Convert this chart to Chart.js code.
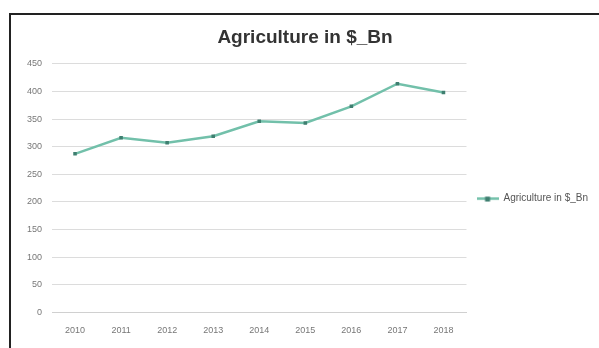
<!DOCTYPE html>
<html>
<head>
<meta charset="utf-8">
<script src="https://cdn.jsdelivr.net/npm/chart.js@4"></script>
<style>
    html, body { margin: 0; padding: 0; background: #fff; }
    #wrap { position: relative; width: 599px; height: 348px; overflow: hidden; }
    #frame {
        position: absolute; left: 9px; top: 13px; width: 620px; height: 360px;
        border-top: 2px solid #222; border-left: 2px solid #222;
        pointer-events: none;
    }
</style>
</head>
<body>
<div id="wrap">
    <canvas id="agriChart" width="599" height="348"></canvas>
    <div id="frame"></div>
</div>
<script>
// Dados
const years = ['2010', '2011', '2012', '2013', '2014', '2015', '2016', '2017', '2018'];
const agriValues = [287, 316, 307, 319, 346, 343, 373, 414, 398];
const yTicks = [0, 50, 100, 150, 200, 250, 300, 350, 400, 450];
const seriesName = 'Agriculture in $_Bn';

const lineColor = '#72c0aa';
const markerColor = '#3f7f70';

// Marcador da legenda: linha com um quadrado no meio (estilo Excel)
function legendMarker() {
    const c = document.createElement('canvas');
    c.width = 22; c.height = 7;
    const g = c.getContext('2d');
    g.strokeStyle = lineColor;
    g.lineWidth = 2.5;
    g.beginPath(); g.moveTo(0, 3.5); g.lineTo(22, 3.5); g.stroke();
    g.fillStyle = markerColor;
    g.fillRect(8.5, 1.5, 5, 5);
    return c;
}

function initAgriChart() {
    const ctx = document.getElementById('agriChart');
    const marker = legendMarker();

    new Chart(ctx.getContext('2d'), {
        type: 'line',
        data: {
            labels: years,
            datasets: [{
                label: seriesName,
                data: agriValues,
                borderColor: lineColor,
                backgroundColor: markerColor,
                borderWidth: 2.5,
                pointStyle: 'rect',
                pointRadius: 2.5,
                pointBorderWidth: 0,
                pointBackgroundColor: markerColor,
                tension: 0,
                fill: false
            }]
        },
        options: {
            responsive: false,
            animation: false,
            layout: { padding: { left: 12, right: 1, top: 18, bottom: 0 } },
            plugins: {
                title: {
                    display: true,
                    text: seriesName,
                    color: '#333',
                    font: { family: 'Liberation Sans', size: 19, weight: 'bold' },
                    padding: { top: 8, bottom: 15 }
                },
                legend: {
                    position: 'right',
                    title: { display: true, text: ' ', padding: 0, font: { size: 26 } },
                    labels: {
                        usePointStyle: true,
                        pointStyleWidth: 22,
                        color: '#555',
                        font: { family: 'Liberation Sans', size: 10 },
                        padding: 10,
                        generateLabels: chart => {
                            const items = Chart.defaults.plugins.legend.labels.generateLabels(chart);
                            items.forEach(it => { it.pointStyle = marker; });
                            return items;
                        }
                    }
                },
                tooltip: { enabled: false }
            },
            scales: {
                x: {
                    offset: true,
                    grid: { display: false, drawTicks: false },
                    border: { color: '#d0d0d0' },
                    ticks: { color: '#777', font: { family: 'Liberation Sans', size: 9, lineHeight: 0.85 }, maxRotation: 0, padding: 14 }
                },
                y: {
                    min: 0,
                    max: 450,
                    afterBuildTicks: scale => { scale.ticks = yTicks.map(v => ({ value: v })); },
                    afterFit: scale => { scale.width = 40; },
                    grid: { color: '#dcdcdc', drawTicks: false },
                    border: { display: false },
                    ticks: { color: '#777', font: { family: 'Liberation Sans', size: 9 }, padding: 10 }
                }
            }
        }
    });
}

document.addEventListener('DOMContentLoaded', initAgriChart);
</script>
</body>
</html>
